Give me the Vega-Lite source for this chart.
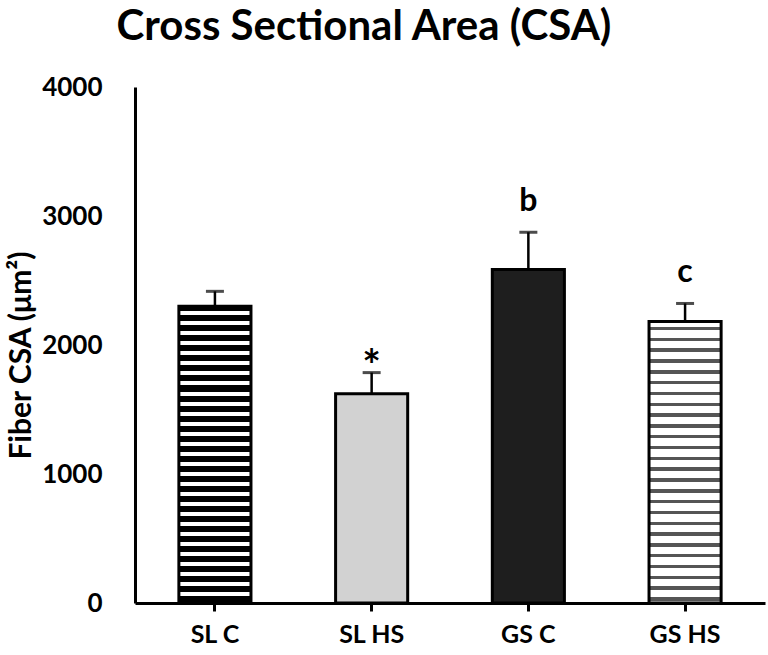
{
  "$schema": "https://vega.github.io/schema/vega-lite/v6.json",
  "autosize": {"type": "none"},
  "padding": {"left": 135, "top": 87, "right": 3, "bottom": 52},
  "width": 630,
  "height": 516,
  "background": "white",
  "config": {"view": {"stroke": null}, "font": "Lato"},
  "title": {"text": "Cross Sectional Area (CSA)", "font": "Lato", "fontSize": 42, "fontWeight": "bold", "color": "black", "anchor": "middle", "dx": -86, "offset": 25},
  "data": {"values": [
    {"group": "SL C", "value": 2300, "upper": 2416, "label": ""},
    {"group": "SL HS", "value": 1623, "upper": 1786, "label": "*"},
    {"group": "GS C", "value": 2586, "upper": 2874, "label": "b"},
    {"group": "GS HS", "value": 2182, "upper": 2322, "label": "c"}
  ]},
  "encoding": {
    "x": {"field": "group", "type": "nominal", "scale": {"domain": ["SL C", "SL HS", "GS C", "GS HS"], "paddingInner": 0.54, "paddingOuter": 0.28},
      "axis": {"title": null, "labelAngle": 0, "labelFont": "Lato", "labelFontSize": 25, "labelFontWeight": "bold", "labelColor": "black", "labelPadding": 11, "domainColor": "black", "domainWidth": 3, "tickColor": "black", "tickWidth": 3, "tickSize": 8, "grid": false}},
    "y": {"field": "value", "type": "quantitative", "scale": {"domain": [0, 4000], "nice": false},
      "axis": {"title": "Fiber CSA (μm²)", "values": [0, 1000, 2000, 3000, 4000], "format": "d", "grid": false, "ticks": false, "tickSize": 0, "labelPadding": 33, "labelFont": "Lato", "labelFontSize": 26, "labelFontWeight": "bold", "labelColor": "black", "domainColor": "black", "domainWidth": 3, "titleFont": "Lato", "titleFontSize": 30, "titleFontWeight": "bold", "titleColor": "black", "titleAngle": -90, "titleAlign": "center", "titleBaseline": "middle", "titleX": -114, "titleY": 268}}
  },
  "layer": [
    {"transform": [{"filter": "datum.group === 'SL C'"}],
     "mark": {"type": "bar", "stroke": "black", "strokeWidth": 3, "fill": {"gradient": "linear", "x1": 0, "y1": 0, "x2": 0, "y2": 1, "stops": [
      {"offset": 0, "color": "#000"},
      {"offset": 0.0169, "color": "#000"}, {"offset": 0.0169, "color": "#fff"}, {"offset": 0.0304, "color": "#fff"}, {"offset": 0.0304, "color": "#000"},
      {"offset": 0.0507, "color": "#000"}, {"offset": 0.0507, "color": "#fff"}, {"offset": 0.0642, "color": "#fff"}, {"offset": 0.0642, "color": "#000"},
      {"offset": 0.0845, "color": "#000"}, {"offset": 0.0845, "color": "#fff"}, {"offset": 0.0980, "color": "#fff"}, {"offset": 0.0980, "color": "#000"},
      {"offset": 0.1182, "color": "#000"}, {"offset": 0.1182, "color": "#fff"}, {"offset": 0.1318, "color": "#fff"}, {"offset": 0.1318, "color": "#000"},
      {"offset": 0.1520, "color": "#000"}, {"offset": 0.1520, "color": "#fff"}, {"offset": 0.1655, "color": "#fff"}, {"offset": 0.1655, "color": "#000"},
      {"offset": 0.1858, "color": "#000"}, {"offset": 0.1858, "color": "#fff"}, {"offset": 0.1993, "color": "#fff"}, {"offset": 0.1993, "color": "#000"},
      {"offset": 0.2196, "color": "#000"}, {"offset": 0.2196, "color": "#fff"}, {"offset": 0.2331, "color": "#fff"}, {"offset": 0.2331, "color": "#000"},
      {"offset": 0.2534, "color": "#000"}, {"offset": 0.2534, "color": "#fff"}, {"offset": 0.2669, "color": "#fff"}, {"offset": 0.2669, "color": "#000"},
      {"offset": 0.2872, "color": "#000"}, {"offset": 0.2872, "color": "#fff"}, {"offset": 0.3007, "color": "#fff"}, {"offset": 0.3007, "color": "#000"},
      {"offset": 0.3209, "color": "#000"}, {"offset": 0.3209, "color": "#fff"}, {"offset": 0.3345, "color": "#fff"}, {"offset": 0.3345, "color": "#000"},
      {"offset": 0.3547, "color": "#000"}, {"offset": 0.3547, "color": "#fff"}, {"offset": 0.3682, "color": "#fff"}, {"offset": 0.3682, "color": "#000"},
      {"offset": 0.3885, "color": "#000"}, {"offset": 0.3885, "color": "#fff"}, {"offset": 0.4020, "color": "#fff"}, {"offset": 0.4020, "color": "#000"},
      {"offset": 0.4223, "color": "#000"}, {"offset": 0.4223, "color": "#fff"}, {"offset": 0.4358, "color": "#fff"}, {"offset": 0.4358, "color": "#000"},
      {"offset": 0.4561, "color": "#000"}, {"offset": 0.4561, "color": "#fff"}, {"offset": 0.4696, "color": "#fff"}, {"offset": 0.4696, "color": "#000"},
      {"offset": 0.4899, "color": "#000"}, {"offset": 0.4899, "color": "#fff"}, {"offset": 0.5034, "color": "#fff"}, {"offset": 0.5034, "color": "#000"},
      {"offset": 0.5236, "color": "#000"}, {"offset": 0.5236, "color": "#fff"}, {"offset": 0.5372, "color": "#fff"}, {"offset": 0.5372, "color": "#000"},
      {"offset": 0.5574, "color": "#000"}, {"offset": 0.5574, "color": "#fff"}, {"offset": 0.5709, "color": "#fff"}, {"offset": 0.5709, "color": "#000"},
      {"offset": 0.5912, "color": "#000"}, {"offset": 0.5912, "color": "#fff"}, {"offset": 0.6047, "color": "#fff"}, {"offset": 0.6047, "color": "#000"},
      {"offset": 0.6250, "color": "#000"}, {"offset": 0.6250, "color": "#fff"}, {"offset": 0.6385, "color": "#fff"}, {"offset": 0.6385, "color": "#000"},
      {"offset": 0.6588, "color": "#000"}, {"offset": 0.6588, "color": "#fff"}, {"offset": 0.6723, "color": "#fff"}, {"offset": 0.6723, "color": "#000"},
      {"offset": 0.6926, "color": "#000"}, {"offset": 0.6926, "color": "#fff"}, {"offset": 0.7061, "color": "#fff"}, {"offset": 0.7061, "color": "#000"},
      {"offset": 0.7264, "color": "#000"}, {"offset": 0.7264, "color": "#fff"}, {"offset": 0.7399, "color": "#fff"}, {"offset": 0.7399, "color": "#000"},
      {"offset": 0.7601, "color": "#000"}, {"offset": 0.7601, "color": "#fff"}, {"offset": 0.7736, "color": "#fff"}, {"offset": 0.7736, "color": "#000"},
      {"offset": 0.7939, "color": "#000"}, {"offset": 0.7939, "color": "#fff"}, {"offset": 0.8074, "color": "#fff"}, {"offset": 0.8074, "color": "#000"},
      {"offset": 0.8277, "color": "#000"}, {"offset": 0.8277, "color": "#fff"}, {"offset": 0.8412, "color": "#fff"}, {"offset": 0.8412, "color": "#000"},
      {"offset": 0.8615, "color": "#000"}, {"offset": 0.8615, "color": "#fff"}, {"offset": 0.8750, "color": "#fff"}, {"offset": 0.8750, "color": "#000"},
      {"offset": 0.8953, "color": "#000"}, {"offset": 0.8953, "color": "#fff"}, {"offset": 0.9088, "color": "#fff"}, {"offset": 0.9088, "color": "#000"},
      {"offset": 0.9291, "color": "#000"}, {"offset": 0.9291, "color": "#fff"}, {"offset": 0.9426, "color": "#fff"}, {"offset": 0.9426, "color": "#000"},
      {"offset": 0.9628, "color": "#000"}, {"offset": 0.9628, "color": "#fff"}, {"offset": 0.9764, "color": "#fff"}, {"offset": 0.9764, "color": "#000"},
      {"offset": 1, "color": "#000"}
     ]}}},
    {"transform": [{"filter": "datum.group === 'SL HS'"}],
     "mark": {"type": "bar", "stroke": "black", "strokeWidth": 3, "fill": "#d2d2d2"}},
    {"transform": [{"filter": "datum.group === 'GS C'"}],
     "mark": {"type": "bar", "stroke": "black", "strokeWidth": 3, "fill": "#1e1e1e"}},
    {"transform": [{"filter": "datum.group === 'GS HS'"}],
     "mark": {"type": "bar", "stroke": "black", "strokeWidth": 3, "fill": {"gradient": "linear", "x1": 0, "y1": 0, "x2": 0, "y2": 1, "stops": [
      {"offset": 0, "color": "#fff"},
      {"offset": 0.0189, "color": "#fff"}, {"offset": 0.0189, "color": "#555"}, {"offset": 0.0310, "color": "#555"}, {"offset": 0.0310, "color": "#fff"},
      {"offset": 0.0573, "color": "#fff"}, {"offset": 0.0573, "color": "#555"}, {"offset": 0.0694, "color": "#555"}, {"offset": 0.0694, "color": "#fff"},
      {"offset": 0.0957, "color": "#fff"}, {"offset": 0.0957, "color": "#555"}, {"offset": 0.1078, "color": "#555"}, {"offset": 0.1078, "color": "#fff"},
      {"offset": 0.1342, "color": "#fff"}, {"offset": 0.1342, "color": "#555"}, {"offset": 0.1463, "color": "#555"}, {"offset": 0.1463, "color": "#fff"},
      {"offset": 0.1726, "color": "#fff"}, {"offset": 0.1726, "color": "#555"}, {"offset": 0.1847, "color": "#555"}, {"offset": 0.1847, "color": "#fff"},
      {"offset": 0.2110, "color": "#fff"}, {"offset": 0.2110, "color": "#555"}, {"offset": 0.2231, "color": "#555"}, {"offset": 0.2231, "color": "#fff"},
      {"offset": 0.2495, "color": "#fff"}, {"offset": 0.2495, "color": "#555"}, {"offset": 0.2616, "color": "#555"}, {"offset": 0.2616, "color": "#fff"},
      {"offset": 0.2879, "color": "#fff"}, {"offset": 0.2879, "color": "#555"}, {"offset": 0.3000, "color": "#555"}, {"offset": 0.3000, "color": "#fff"},
      {"offset": 0.3263, "color": "#fff"}, {"offset": 0.3263, "color": "#555"}, {"offset": 0.3384, "color": "#555"}, {"offset": 0.3384, "color": "#fff"},
      {"offset": 0.3648, "color": "#fff"}, {"offset": 0.3648, "color": "#555"}, {"offset": 0.3769, "color": "#555"}, {"offset": 0.3769, "color": "#fff"},
      {"offset": 0.4032, "color": "#fff"}, {"offset": 0.4032, "color": "#555"}, {"offset": 0.4153, "color": "#555"}, {"offset": 0.4153, "color": "#fff"},
      {"offset": 0.4416, "color": "#fff"}, {"offset": 0.4416, "color": "#555"}, {"offset": 0.4537, "color": "#555"}, {"offset": 0.4537, "color": "#fff"},
      {"offset": 0.4801, "color": "#fff"}, {"offset": 0.4801, "color": "#555"}, {"offset": 0.4922, "color": "#555"}, {"offset": 0.4922, "color": "#fff"},
      {"offset": 0.5185, "color": "#fff"}, {"offset": 0.5185, "color": "#555"}, {"offset": 0.5306, "color": "#555"}, {"offset": 0.5306, "color": "#fff"},
      {"offset": 0.5569, "color": "#fff"}, {"offset": 0.5569, "color": "#555"}, {"offset": 0.5690, "color": "#555"}, {"offset": 0.5690, "color": "#fff"},
      {"offset": 0.5954, "color": "#fff"}, {"offset": 0.5954, "color": "#555"}, {"offset": 0.6075, "color": "#555"}, {"offset": 0.6075, "color": "#fff"},
      {"offset": 0.6338, "color": "#fff"}, {"offset": 0.6338, "color": "#555"}, {"offset": 0.6459, "color": "#555"}, {"offset": 0.6459, "color": "#fff"},
      {"offset": 0.6722, "color": "#fff"}, {"offset": 0.6722, "color": "#555"}, {"offset": 0.6843, "color": "#555"}, {"offset": 0.6843, "color": "#fff"},
      {"offset": 0.7107, "color": "#fff"}, {"offset": 0.7107, "color": "#555"}, {"offset": 0.7228, "color": "#555"}, {"offset": 0.7228, "color": "#fff"},
      {"offset": 0.7491, "color": "#fff"}, {"offset": 0.7491, "color": "#555"}, {"offset": 0.7612, "color": "#555"}, {"offset": 0.7612, "color": "#fff"},
      {"offset": 0.7875, "color": "#fff"}, {"offset": 0.7875, "color": "#555"}, {"offset": 0.7996, "color": "#555"}, {"offset": 0.7996, "color": "#fff"},
      {"offset": 0.8260, "color": "#fff"}, {"offset": 0.8260, "color": "#555"}, {"offset": 0.8381, "color": "#555"}, {"offset": 0.8381, "color": "#fff"},
      {"offset": 0.8644, "color": "#fff"}, {"offset": 0.8644, "color": "#555"}, {"offset": 0.8765, "color": "#555"}, {"offset": 0.8765, "color": "#fff"},
      {"offset": 0.9028, "color": "#fff"}, {"offset": 0.9028, "color": "#555"}, {"offset": 0.9149, "color": "#555"}, {"offset": 0.9149, "color": "#fff"},
      {"offset": 0.9413, "color": "#fff"}, {"offset": 0.9413, "color": "#555"}, {"offset": 0.9534, "color": "#555"}, {"offset": 0.9534, "color": "#fff"},
      {"offset": 0.9797, "color": "#fff"}, {"offset": 0.9797, "color": "#555"}, {"offset": 0.9918, "color": "#555"}, {"offset": 0.9918, "color": "#fff"},
      {"offset": 1, "color": "#fff"}
     ]}}},
    {"mark": {"type": "rule", "color": "black", "strokeWidth": 2.5},
     "encoding": {"y": {"field": "value", "type": "quantitative"}, "y2": {"field": "upper"}}},
    {"mark": {"type": "tick", "orient": "horizontal", "color": "black", "size": 18, "thickness": 3},
     "encoding": {"y": {"field": "upper", "type": "quantitative"}}},
    {"transform": [{"filter": "datum.label === 'b' || datum.label === 'c'"}],
     "mark": {"type": "text", "font": "Lato", "fontSize": 32, "fontWeight": "bold", "color": "black", "baseline": "alphabetic", "dy": -21},
     "encoding": {"y": {"field": "upper", "type": "quantitative"}, "text": {"field": "label"}}},
    {"transform": [{"filter": "datum.label === '*'"}],
     "mark": {"type": "text", "font": "Lato", "fontSize": 44, "fontWeight": "bold", "color": "black", "baseline": "alphabetic", "dy": 8},
     "encoding": {"y": {"field": "upper", "type": "quantitative"}, "text": {"field": "label"}}}
  ]
}
